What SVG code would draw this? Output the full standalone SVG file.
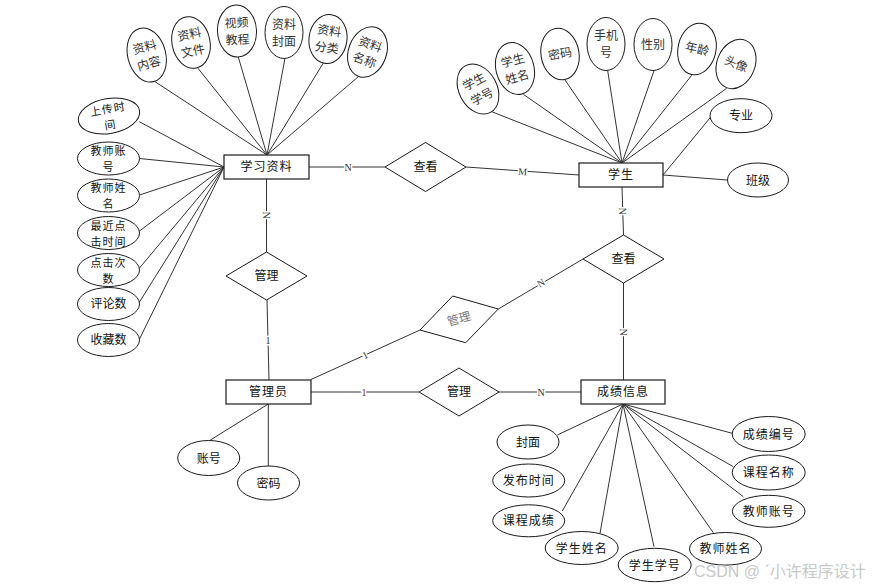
<svg xmlns="http://www.w3.org/2000/svg" width="880" height="586" viewBox="0 0 880 586">
<style>
.ln{stroke:#333;stroke-width:1;fill:none}
.ent{fill:#fff;stroke:#1a1a1a;stroke-width:1.2}
.att{fill:#fff;stroke:#1a1a1a;stroke-width:1}
.t{font-family:"Noto Sans CJK SC","Noto Sans",sans-serif;font-size:12px;text-anchor:middle;fill:#111}
.t2{font-family:"Noto Sans CJK SC","Noto Sans",sans-serif;font-size:11px;text-anchor:middle;fill:#111;letter-spacing:1px}
.tg{font-family:"Noto Sans CJK SC","Noto Sans",sans-serif;font-size:12px;text-anchor:middle;fill:#333}
.lbl{font-family:"Liberation Serif",serif;font-size:10px;text-anchor:middle;fill:#333;stroke:#fff;stroke-width:3;paint-order:stroke}
.wm{font-family:"Liberation Sans","Noto Sans CJK SC",sans-serif;font-size:16px;fill:#c8c8c8}
</style>
<rect width="880" height="586" fill="#fff"/>
<g id="connectors">
<path class="ln" d="M155,81.7L267,155M198,68.3L267,155M238.3,57L267,155M285,58L267,155M323.3,63L267,155M358.3,76.7L267,155"/>
<path class="ln" d="M139.3,121.7L224,167M139.5,158.5L224,167M139.5,195L224,167M139.5,231L224,167M139.5,268L224,167M139.5,302L224,167M139.5,339L224,167"/>
<path class="ln" d="M491.7,111.7L622,163M523.3,94.3L622,163M565,80L622,163M607.7,70.7L622,163M654,70.7L622,163M691.7,75.3L622,163M726.7,88.3L622,163M711,116.7L663,175M727,180L663,175"/>
<path class="ln" d="M209.3,440.7L268.3,404M268.3,466L268.3,404"/>
<path class="ln" d="M557.3,435L623,404M562.3,511L623,404M600,533.3L623,404M654,546.7L623,404M713.3,532.7L623,404M743.3,496.7L623,404M733.3,466.7L623,404M732.3,433.3L623,404"/>
<path class="ln" d="M309,167L385,167M466,167L579,175M622,187L623.5,235M623.5,283L623.5,380M583,259L498.3,309M420,330L311,379.5M266.5,179L266.5,252M267,300L269,380M311,392L419,392M499,392L581,392"/>
<text class="lbl" x="348" y="171">N</text>
<text class="lbl" x="522.7" y="175" transform="rotate(4 522.7 171)">M</text>
<text class="lbl" x="622.5" y="214.5" transform="rotate(90 622.5 211)">N</text>
<text class="lbl" x="623.5" y="335.5" transform="rotate(90 623.5 332)">N</text>
<text class="lbl" x="541" y="286.5" transform="rotate(-30 541 283)">N</text>
<text class="lbl" x="365" y="358.5" transform="rotate(-25 365 355)">1</text>
<text class="lbl" x="266.5" y="218.5" transform="rotate(90 266.5 215)">N</text>
<text class="lbl" x="268" y="343.5">1</text>
<text class="lbl" x="364" y="395.5" style="fill:#8b1a1a">1</text>
<text class="lbl" x="541" y="395.5">N</text>
</g>
<g id="e-xxzl"><rect class="ent" x="224" y="155" width="85" height="24"/><text class="t" x="266.5" y="171" letter-spacing="1">学习资料</text></g>
<g id="e-xs"><rect class="ent" x="579" y="163" width="84" height="24"/><text class="t" x="621" y="179" letter-spacing="1">学生</text></g>
<g id="e-gly"><rect class="ent" x="226" y="380" width="85" height="24"/><text class="t" x="268.5" y="396" letter-spacing="1">管理员</text></g>
<g id="e-cjxx"><rect class="ent" x="581" y="380" width="84" height="24"/><text class="t" x="623" y="396" letter-spacing="1">成绩信息</text></g>
<g id="r-ck1"><polygon class="att" points="385,167 425.5,142.5 466,167 425.5,191.5"/><text class="t" x="425.5" y="171">查看</text></g>
<g id="r-ck2"><polygon class="att" points="583,259 623.5,235 664,259 623.5,283"/><text class="t" x="623.5" y="263">查看</text></g>
<g id="r-gl1"><polygon class="att" points="226,276 266.5,252 307,276 266.5,300"/><text class="t" x="266.5" y="280">管理</text></g>
<g id="r-gl2"><polygon class="att" points="419,392 459,368 499,392 459,416"/><text class="t" x="459" y="396">管理</text></g>
<g id="r-gl3"><polygon class="att" points="452.7,296 498.3,309 465.7,342.7 420,330"/><text class="tg" x="459" y="323" style="fill:#777" transform="rotate(-15 459 319)">管理</text></g>
<g id="a-zlnr" transform="translate(146.7,55) rotate(-15)"><ellipse class="att" rx="19" ry="27.5"/><text class="tg" y="-4">资料<tspan x="0" dy="17">内容</tspan></text></g>
<g id="a-zlwj" transform="translate(191,42.5) rotate(-12)"><ellipse class="att" rx="19" ry="26"/><text class="tg" y="-4">资料<tspan x="0" dy="17">文件</tspan></text></g>
<g id="a-spjc" transform="translate(237,31) rotate(-3)"><ellipse class="att" rx="19.5" ry="26"/><text class="tg" y="-4">视频<tspan x="0" dy="17">教程</tspan></text></g>
<g id="a-zlfm" transform="translate(284,32.5)"><ellipse class="att" rx="19" ry="26"/><text class="tg" y="-4">资料<tspan x="0" dy="17">封面</tspan></text></g>
<g id="a-zlfl" transform="translate(328,39) rotate(8)"><ellipse class="att" rx="19" ry="24.5"/><text class="tg" y="-4">资料<tspan x="0" dy="17">分类</tspan></text></g>
<g id="a-zlmc" transform="translate(367.5,52) rotate(20)"><ellipse class="att" rx="19" ry="26"/><text class="tg" y="-4">资料<tspan x="0" dy="17">名称</tspan></text></g>
<g id="a-scsj" transform="translate(109,116) rotate(-10)"><ellipse class="att" rx="31" ry="17.5"/><text class="t2" y="-3">上传时<tspan x="0" dy="16">间</tspan></text></g>
<g id="a-jszh"><ellipse class="att" cx="108.5" cy="158.5" rx="31" ry="16.5"/><text class="t2" x="108.5" y="155">教师账<tspan x="108.5" dy="16">号</tspan></text></g>
<g id="a-jsxm"><ellipse class="att" cx="108.5" cy="195.5" rx="31" ry="16.5"/><text class="t2" x="108.5" y="192">教师姓<tspan x="108.5" dy="16">名</tspan></text></g>
<g id="a-zjdj"><ellipse class="att" cx="108.5" cy="233" rx="31" ry="16.5"/><text class="t2" x="108.5" y="229.5">最近点<tspan x="108.5" dy="16">击时间</tspan></text></g>
<g id="a-djcs"><ellipse class="att" cx="108.5" cy="270" rx="31" ry="16.5"/><text class="t2" x="108.5" y="266.5">点击次<tspan x="108.5" dy="16">数</tspan></text></g>
<g id="a-pls"><ellipse class="att" cx="108.5" cy="304" rx="31" ry="16.5"/><text class="t" x="108.5" y="308">评论数</text></g>
<g id="a-scs"><ellipse class="att" cx="108.5" cy="340" rx="31" ry="16.5"/><text class="t" x="108.5" y="344">收藏数</text></g>
<g id="a-xsxh" transform="translate(478,89) rotate(-28)"><ellipse class="att" rx="19" ry="26.5"/><text class="tg" y="-4">学生<tspan x="0" dy="17">学号</tspan></text></g>
<g id="a-xsxm" transform="translate(515,68.5) rotate(-15)"><ellipse class="att" rx="19" ry="26.5"/><text class="tg" y="-4">学生<tspan x="0" dy="17">姓名</tspan></text></g>
<g id="a-mm" transform="translate(560,54) rotate(-10)"><ellipse class="att" rx="19" ry="26"/><text class="tg" y="4">密码</text></g>
<g id="a-sjh" transform="translate(606,44)"><ellipse class="att" rx="19" ry="26.5"/><text class="tg" y="-4">手机<tspan x="0" dy="17">号</tspan></text></g>
<g id="a-xb" transform="translate(653,44.5)"><ellipse class="att" rx="19" ry="26"/><text class="tg" y="4">性别</text></g>
<g id="a-nl" transform="translate(697,49) rotate(12)"><ellipse class="att" rx="19" ry="26"/><text class="tg" y="4">年龄</text></g>
<g id="a-tx" transform="translate(736,64) rotate(22)"><ellipse class="att" rx="19" ry="25.5"/><text class="tg" y="4">头像</text></g>
<g id="a-zy"><ellipse class="att" cx="741" cy="115.7" rx="31" ry="17"/><text class="t" x="741" y="120">专业</text></g>
<g id="a-bj"><ellipse class="att" cx="758" cy="180" rx="30.5" ry="17"/><text class="t" x="758" y="184.5">班级</text></g>
<g id="a-zh"><ellipse class="att" cx="208.7" cy="458" rx="31" ry="17.5"/><text class="t" x="208.7" y="462.5">账号</text></g>
<g id="a-mm2"><ellipse class="att" cx="268.5" cy="483" rx="31" ry="17"/><text class="t" x="268.5" y="487.5">密码</text></g>
<g id="a-fm"><ellipse class="att" cx="528" cy="442" rx="31" ry="17"/><text class="t" x="528" y="446.5">封面</text></g>
<g id="a-fbsj"><ellipse class="att" cx="528.7" cy="480.5" rx="36" ry="16.5"/><text class="t" x="528.7" y="485" letter-spacing="1">发布时间</text></g>
<g id="a-kccj"><ellipse class="att" cx="528.7" cy="520.8" rx="36" ry="16"/><text class="t" x="528.7" y="525" letter-spacing="1">课程成绩</text></g>
<g id="a-xsxm2"><ellipse class="att" cx="581.7" cy="548" rx="36.5" ry="16.5"/><text class="t" x="581.7" y="552.5" letter-spacing="1">学生姓名</text></g>
<g id="a-xsxh2"><ellipse class="att" cx="654.7" cy="565" rx="36.5" ry="16.7"/><text class="t" x="654.7" y="569.5" letter-spacing="1">学生学号</text></g>
<g id="a-jsxm2"><ellipse class="att" cx="725.5" cy="548.8" rx="36" ry="16.3"/><text class="t" x="725.5" y="553" letter-spacing="1">教师姓名</text></g>
<g id="a-jszh2"><ellipse class="att" cx="768.7" cy="511.3" rx="36.3" ry="16"/><text class="t" x="768.7" y="515.5" letter-spacing="1">教师账号</text></g>
<g id="a-kcmc"><ellipse class="att" cx="768.7" cy="472.5" rx="36.5" ry="17.5"/><text class="t" x="768.7" y="477" letter-spacing="1">课程名称</text></g>
<g id="a-cjbh"><ellipse class="att" cx="768.7" cy="434" rx="36.5" ry="17.5"/><text class="t" x="768.7" y="438.5" letter-spacing="1">成绩编号</text></g>
<text class="wm" x="694" y="577">CSDN @ ˊ小许程序设计</text>
</svg>
